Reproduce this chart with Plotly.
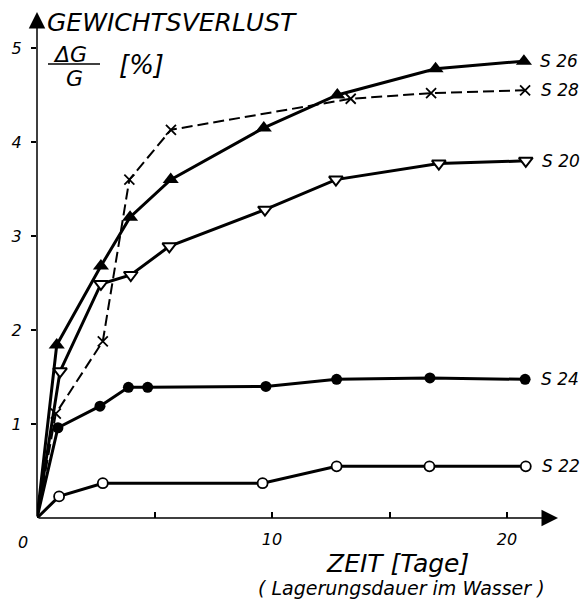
import plotly.graph_objects as go

# ---- data ----
s26_days = [0, 0.84, 2.72, 3.96, 5.69, 9.65, 12.78, 16.96, 20.72]
s26_loss = [0, 1.84, 2.68, 3.20, 3.60, 4.15, 4.50, 4.78, 4.86]

s28_days = [0, 0.80, 2.80, 3.93, 5.70, 13.35, 16.77, 20.77]
s28_loss = [0, 1.11, 1.88, 3.60, 4.13, 4.46, 4.52, 4.55]

s20_days = [0, 0.98, 2.72, 3.99, 5.63, 9.70, 12.72, 17.10, 20.80]
s20_loss = [0, 1.56, 2.49, 2.585, 2.89, 3.28, 3.60, 3.77, 3.80]

s24_days = [0, 0.89, 2.68, 3.89, 4.71, 9.74, 12.75, 16.72, 20.77]
s24_loss = [0, 0.96, 1.19, 1.39, 1.39, 1.40, 1.475, 1.49, 1.475]

s22_days = [0, 0.94, 2.80, 9.60, 12.75, 16.70, 20.80]
s22_loss = [0, 0.23, 0.37, 0.37, 0.55, 0.55, 0.55]

series_names = ["S 28", "S 22", "S 24", "S 20", "S 26"]
x_tickvals = [5, 10, 15, 20]
x_ticktext = ["", "10", "", "20"]
y_tickvals = [1, 2, 3, 4, 5]
y_ticktext = ["1", "2", "3", "4", "5"]

# ---- layout geometry ----
W, H = 585, 602
L, R, T, B = 37, 558, 10, 518
X_MAX = (R - L) / 23.5
Y_MAX = (B - T) / 94.0
INK = "#000000"
FONT = "DejaVu Sans"


def pxx(p):
    return (p - L) / (R - L)


def pyy(p):
    return (B - p) / (B - T)


def sizes(n, s):
    return [0] + [s] * (n - 1)


fig = go.Figure()

# S 28 (dashed, x marks)
fig.add_trace(go.Scatter(
    x=s28_days, y=s28_loss, mode="lines+markers", name="S 28",
    line=dict(color=INK, width=2, dash="11px,5px"),
    marker=dict(symbol="x-thin", size=sizes(len(s28_days), 10), opacity=1,
                line=dict(color=INK, width=1.8)),
    cliponaxis=False))

# S 22 (open circles)
fig.add_trace(go.Scatter(
    x=s22_days, y=s22_loss, mode="lines+markers", name="S 22",
    line=dict(color=INK, width=3),
    marker=dict(symbol="circle", size=sizes(len(s22_days), 10), color="white",
                opacity=1, line=dict(color=INK, width=1.8)),
    cliponaxis=False))

# S 24 (filled circles)
fig.add_trace(go.Scatter(
    x=s24_days, y=s24_loss, mode="lines+markers", name="S 24",
    line=dict(color=INK, width=3),
    marker=dict(symbol="circle", size=sizes(len(s24_days), 11), color=INK,
                opacity=1, line=dict(color=INK, width=0)),
    cliponaxis=False))

# S 20 (open down triangles)
fig.add_trace(go.Scatter(
    x=s20_days, y=s20_loss, mode="lines+markers", name="S 20",
    line=dict(color=INK, width=3),
    marker=dict(symbol="triangle-down", size=sizes(len(s20_days), 12), color="white",
                opacity=1, line=dict(color=INK, width=2)),
    cliponaxis=False))

# S 26 (filled up triangles)
fig.add_trace(go.Scatter(
    x=s26_days, y=s26_loss, mode="lines+markers", name="S 26",
    line=dict(color=INK, width=3),
    marker=dict(symbol="triangle-up", size=sizes(len(s26_days), 14), color=INK,
                opacity=1, line=dict(color=INK, width=0)),
    cliponaxis=False))

tick_font = dict(family=FONT, size=16, color=INK, style="italic")

fig.update_layout(
    width=W, height=H, autosize=False,
    margin=dict(l=L, r=W - R, t=T, b=H - B),
    paper_bgcolor="white", plot_bgcolor="white",
    showlegend=False,
    xaxis=dict(range=[0, X_MAX], showgrid=False, zeroline=False, showline=False,
               tickvals=x_tickvals, ticktext=x_ticktext, ticks="inside",
               ticklen=6, tickwidth=1.5, tickcolor=INK, tickfont=tick_font,
               ticklabelstandoff=10),
    yaxis=dict(range=[0, Y_MAX], showgrid=False, zeroline=False, showline=False,
               tickvals=y_tickvals, ticktext=y_ticktext, ticks="outside",
               ticklen=5, tickwidth=1.5, tickcolor=INK, tickfont=tick_font,
               ticklabelstandoff=6),
)

ann = []
# axis arrows
ann.append(dict(x=X_MAX, y=0, ax=0, ay=0, xref="x", yref="y", axref="x", ayref="y",
                showarrow=True, arrowhead=2, arrowsize=2.2, arrowwidth=1.5,
                arrowcolor=INK, text=""))
ann.append(dict(x=0, y=(B - 12) / 94.0, ax=0, ay=0, xref="x", yref="y", axref="x",
                ayref="y", showarrow=True, arrowhead=2, arrowsize=2.2, arrowwidth=1.5,
                arrowcolor=INK, text=""))

# series labels
last_points = [(s28_days[-1], s28_loss[-1], "S 28"),
               (s22_days[-1], s22_loss[-1], "S 22"),
               (s24_days[-1], s24_loss[-1], "S 24"),
               (s20_days[-1], s20_loss[-1], "S 20"),
               (s26_days[-1], s26_loss[-1], "S 26")]
for xv, yv, name in last_points:
    ann.append(dict(x=xv, y=yv, xref="x", yref="y", text=name, showarrow=False,
                    xanchor="left", yanchor="middle", xshift=14,
                    font=dict(family=FONT, size=17, color=INK, style="italic")))


def txt(text, x, y, size, xanchor="center"):
    return dict(x=pxx(x), y=pyy(y), xref="paper", yref="paper", text=text,
                showarrow=False, xanchor=xanchor, yanchor="middle",
                font=dict(family=FONT, size=size, color=INK, style="italic"))


ann.append(txt("0", 23, 542, 16))
ann.append(txt("GEWICHTSVERLUST", 45, 23, 25, "left"))
ann.append(txt("ΔG", 70, 55, 22))
ann.append(txt("G", 74, 79, 22))
ann.append(txt("[%]", 141, 65, 26))
ann.append(txt("ZEIT [Tage]", 397, 563, 25))
ann.append(txt("( Lagerungsdauer im Wasser )", 401, 588, 19))

fig.update_layout(annotations=ann)
fig.add_shape(type="line", xref="paper", yref="paper",
              x0=pxx(48), x1=pxx(100), y0=pyy(64), y1=pyy(64),
              line=dict(color=INK, width=1.5))

fig.write_html("out.html")
